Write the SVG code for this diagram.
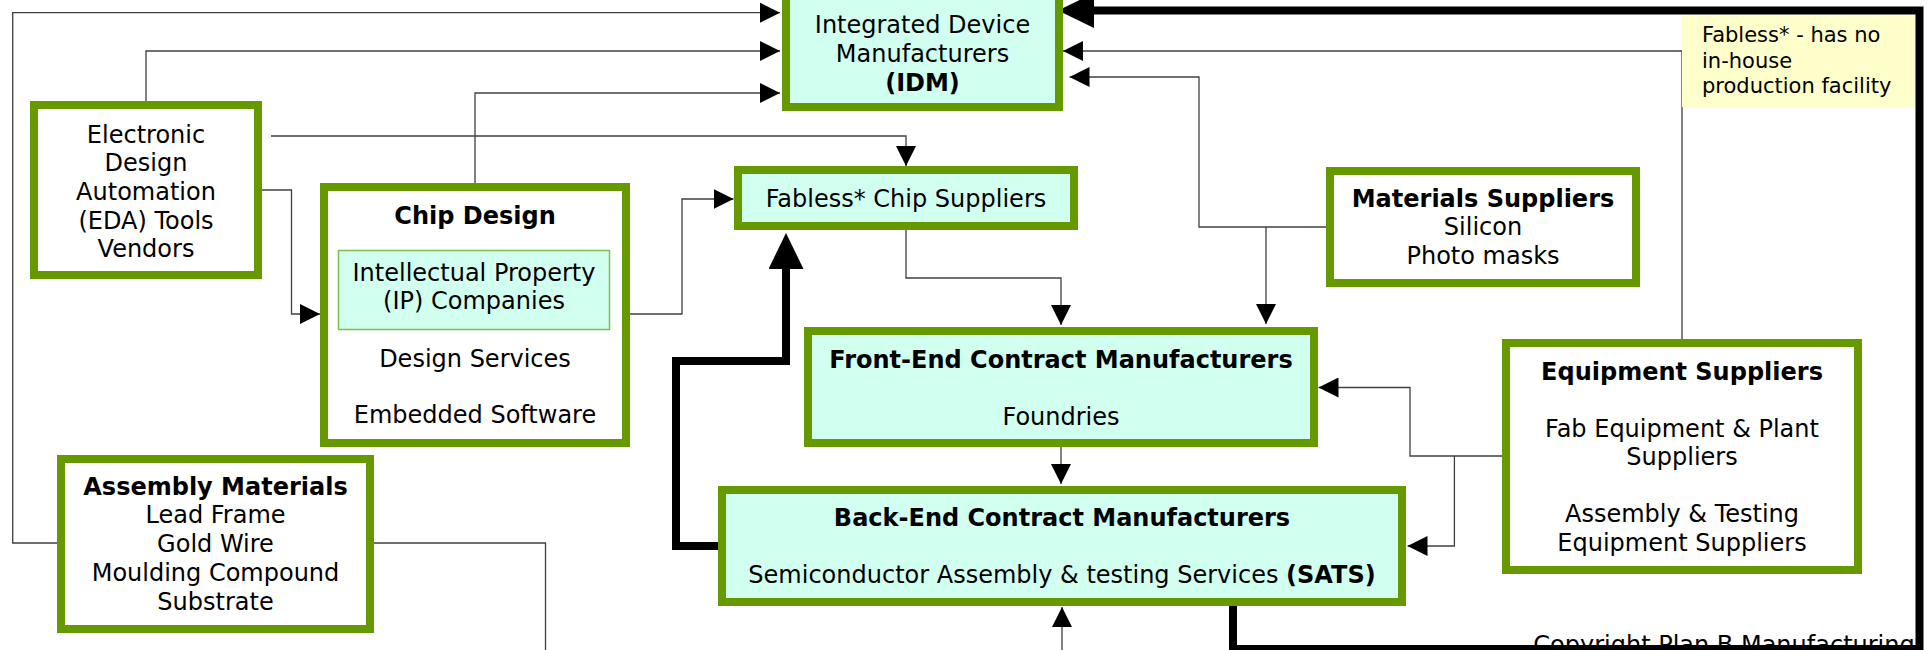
<svg xmlns="http://www.w3.org/2000/svg" width="1928" height="650" viewBox="0 0 1928 650">
<style>
.box{stroke:#669900;stroke-width:8;}
.w{fill:#ffffff;}
.c{fill:#d1fff0;}
.t{font-family:"DejaVu Sans",Verdana,sans-serif;font-size:24px;fill:#000;text-anchor:middle;}
.b{font-weight:bold;}
.note{font-family:"DejaVu Sans",Verdana,sans-serif;font-size:21px;fill:#000;}
.thin{fill:none;stroke:#404040;stroke-width:1.3;}
.thick{fill:none;stroke:#000;stroke-width:8;stroke-linejoin:miter;}
</style>
<defs>
<marker id="a" markerUnits="userSpaceOnUse" markerWidth="20" markerHeight="20" refX="20" refY="10" orient="auto"><path d="M0,0 L20,10 L0,20 z" fill="#000"/></marker>
<marker id="A" markerUnits="userSpaceOnUse" markerWidth="36" markerHeight="35" refX="0" refY="17.5" orient="auto"><path d="M0,0 L36,17.5 L0,35 z" fill="#000"/></marker>
</defs>
<rect width="1928" height="650" fill="#fff"/>
<text class="t" x="1724" y="653">Copyright Plan B Manufacturing</text>
<g id="connectors">
<path class="thin" d="M57,543 H12.7 V12.7 H780" marker-end="url(#a)"/>
<path class="thin" d="M146,101 V51 H780" marker-end="url(#a)"/>
<path class="thin" d="M475,183 V93 H780" marker-end="url(#a)"/>
<path class="thin" d="M262,190 H291.5 V314 H320" marker-end="url(#a)"/>
<path class="thin" d="M271,136 H906 V166" marker-end="url(#a)"/>
<path class="thin" d="M630,314 H682 V199 H733.5" marker-end="url(#a)"/>
<path class="thin" d="M906,230 V278 H1061 V325" marker-end="url(#a)"/>
<path class="thin" d="M1326,227 H1199 V77 H1069.5" marker-end="url(#a)"/>
<path class="thin" d="M1266,227 V324" marker-end="url(#a)"/>
<path class="thin" d="M1682,339 V51 H1063" marker-end="url(#a)"/>
<path class="thin" d="M1061,447 V484" marker-end="url(#a)"/>
<path class="thin" d="M1502,456 H1410 V387.5 H1318.5" marker-end="url(#a)"/>
<path class="thin" d="M1454.4,456 V546 H1407.5" marker-end="url(#a)"/>
<path class="thin" d="M1062,650 V607" marker-end="url(#a)"/>
<path class="thin" d="M374,543 H545.5 V650"/>
<path class="thick" d="M1233,603 V649 H1919.5 V10.5 H1094" marker-end="url(#A)"/>
<path class="thick" d="M718,546 H676 V361 H786 V269" marker-end="url(#A)"/>
</g>
<g id="idm">
<rect class="box c" x="786" y="-6" width="273" height="113"/>
<text class="t" x="922.5" y="33">Integrated Device</text>
<text class="t" x="922.5" y="62">Manufacturers</text>
<text class="t b" x="922.5" y="91">(IDM)</text>
</g>
<g id="eda">
<rect class="box w" x="34" y="105" width="224" height="170"/>
<text class="t" x="146" y="142.5">Electronic</text>
<text class="t" x="146" y="171">Design</text>
<text class="t" x="146" y="200">Automation</text>
<text class="t" x="146" y="228.5">(EDA) Tools</text>
<text class="t" x="146" y="257">Vendors</text>
</g>
<g id="chip-design">
<rect class="box w" x="324" y="187" width="302" height="256"/>
<text class="t b" x="475" y="224">Chip Design</text>
<rect x="338.5" y="250.5" width="271" height="79" fill="#d1fff0" stroke="#7cc04a" stroke-width="1.5"/>
<text class="t" x="474" y="280.7">Intellectual Property</text>
<text class="t" x="474" y="309">(IP) Companies</text>
<text class="t" x="475" y="366.7">Design Services</text>
<text class="t" x="475" y="423.3">Embedded Software</text>
</g>
<g id="fabless">
<rect class="box c" x="738" y="170" width="336" height="56"/>
<text class="t" x="906" y="207.3">Fabless* Chip Suppliers</text>
</g>
<g id="materials">
<rect class="box w" x="1330" y="171" width="306" height="112"/>
<text class="t b" x="1483" y="207.3">Materials Suppliers</text>
<text class="t" x="1483" y="235">Silicon</text>
<text class="t" x="1483" y="264">Photo masks</text>
</g>
<g id="note">
<rect x="1682" y="15" width="233" height="92" fill="#ffffcc"/>
<text class="note" x="1702" y="41.7">Fabless* - has no</text>
<text class="note" x="1702" y="67.5">in-house</text>
<text class="note" x="1702" y="93.3">production facility</text>
</g>
<g id="front-end">
<rect class="box c" x="808" y="331" width="506" height="112"/>
<text class="t b" x="1061" y="368.3">Front-End Contract Manufacturers</text>
<text class="t" x="1061" y="425">Foundries</text>
</g>
<g id="back-end">
<rect class="box c" x="722" y="490" width="680" height="112"/>
<text class="t b" x="1062" y="526">Back-End Contract Manufacturers</text>
<text class="t" x="1062" y="583.3">Semiconductor Assembly &amp; testing Services <tspan class="b">(SATS)</tspan></text>
</g>
<g id="equipment">
<rect class="box w" x="1506" y="343" width="352" height="227"/>
<text class="t b" x="1682" y="380">Equipment Suppliers</text>
<text class="t" x="1682" y="436.7">Fab Equipment &amp; Plant</text>
<text class="t" x="1682" y="465">Suppliers</text>
<text class="t" x="1682" y="521.7">Assembly &amp; Testing</text>
<text class="t" x="1682" y="550.7">Equipment Suppliers</text>
</g>
<g id="assembly-materials">
<rect class="box w" x="61" y="459" width="309" height="170"/>
<text class="t b" x="215.5" y="495">Assembly Materials</text>
<text class="t" x="215.5" y="523.3">Lead Frame</text>
<text class="t" x="215.5" y="552.3">Gold Wire</text>
<text class="t" x="215.5" y="581">Moulding Compound</text>
<text class="t" x="215.5" y="610">Substrate</text>
</g>
</svg>
